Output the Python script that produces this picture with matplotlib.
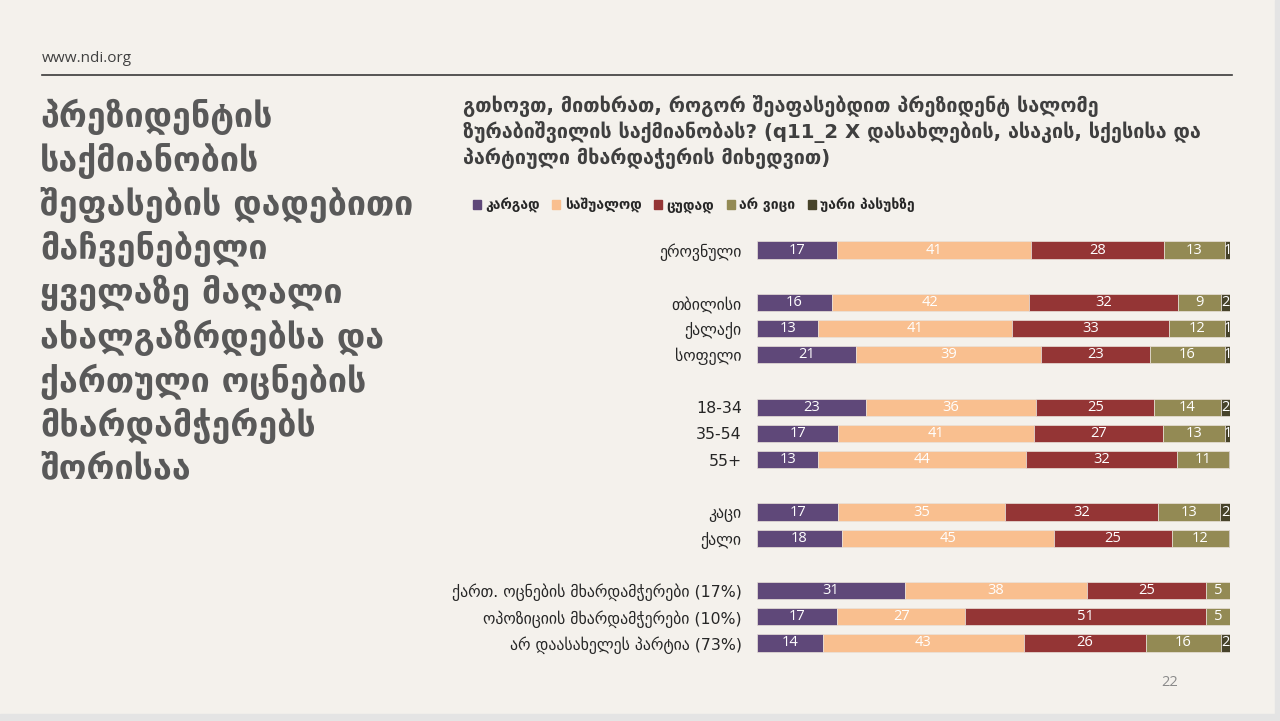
import numpy as np
import matplotlib
matplotlib.use("Agg")
from matplotlib import pyplot as plt
from matplotlib.patches import Rectangle, Patch

plt.rcParams['font.family'] = ['DejaVu Sans']

categories = ['ეროვნული', 'თბილისი', 'ქალაქი', 'სოფელი', '18-34', '35-54', '55+',
              'კაცი', 'ქალი', 'ქართ. ოცნების მხარდამჭერები (17%)',
              'ოპოზიციის მხარდამჭერები (10%)', 'არ დაასახელეს პარტია (73%)']
group_sizes = [1, 3, 3, 2, 3]

good = [17, 16, 13, 21, 23, 17, 13, 17, 18, 31, 17, 14]
average = [41, 42, 41, 39, 36, 41, 44, 35, 45, 38, 27, 43]
bad = [28, 32, 33, 23, 25, 27, 32, 32, 25, 25, 51, 26]
dont_know = [13, 9, 12, 16, 14, 13, 11, 13, 12, 5, 5, 16]
refused = [1, 2, 1, 1, 2, 1, 0.3, 2, 0.3, 0, 0, 2]

series_names = ['კარგად', 'საშუალოდ', 'ცუდად', 'არ ვიცი', 'უარი პასუხზე']
colors = ['#5F4879', '#F9BF8F', '#943535', '#938A54', '#47432A']

title = ('გთხოვთ, მითხრათ, როგორ შეაფასებდით პრეზიდენტ სალომე\n'
         'ზურაბიშვილის საქმიანობას? (q11_2 X დასახლების, ასაკის, სქესისა და\n'
         'პარტიული მხარდაჭერის მიხედვით)')
side_title = ['პრეზიდენტის', 'საქმიანობის', 'შეფასების დადებითი', 'მაჩვენებელი',
              'ყველაზე მაღალი', 'ახალგაზრდებსა და', 'ქართული ოცნების',
              'მხარდამჭერებს', 'შორისაა']

bg = '#F4F1EC'
fig = plt.figure(figsize=(12.8, 7.21), dpi=100, facecolor=bg)

# slide frame edges
fig.patches.append(Rectangle((1275 / 1280, 0), 5 / 1280, 1, transform=fig.transFigure,
                             color='#E4E4E4', zorder=0))
fig.patches.append(Rectangle((0, 0), 1, 7 / 721, transform=fig.transFigure,
                             color='#E4E4E4', zorder=0))

fig.text(42 / 1280, 1 - 58 / 721, 'www.ndi.org', fontsize=11, color='#404040',
         va='center', ha='left', family=['Open Sans', 'DejaVu Sans'])
fig.add_artist(plt.Line2D([42 / 1280, 1232 / 1280], [1 - 75 / 721, 1 - 75 / 721],
                          color='#3A3A3A', lw=1.2))

for i, line in enumerate(side_title):
    fig.text(40 / 1280, 1 - (117 + 44.1 * i) / 721, line, fontsize=24.5, fontweight='bold',
             color='#595959', va='center', ha='left')

fig.text(463 / 1280, 1 - 95 / 721, title, fontsize=14.2, fontweight='bold', color='#3F3F3F',
         va='top', ha='left', linespacing=1.25)

fig.text(1170 / 1280, 1 - 683 / 721, '22', fontsize=10.5, color='#8A8A8A',
         va='center', ha='center', family=['Open Sans', 'DejaVu Sans'])

# positions with gaps between groups
positions = []
p = 0
for g in group_sizes:
    positions.extend(range(p, p + g))
    p += g + 1
positions = np.array(positions)

ax = fig.add_axes([757 / 1280, 1 - 656.1 / 721, (1230 - 757) / 1280, (656.1 - 236.9) / 721])
ax.set_facecolor(bg)

data = np.array([good, average, bad, dont_know, refused], dtype=float)
totals = data.sum(axis=0)
shares = data / totals * 100

left = np.zeros(len(categories))
for k in range(len(series_names)):
    ax.barh(positions, shares[k], left=left, height=0.66, color=colors[k],
            edgecolor='#E9E2DA', linewidth=0.5, label=series_names[k])
    for j in range(len(categories)):
        if data[k, j] >= 1:
            ax.text(left[j] + shares[k, j] / 2, positions[j], f'{data[k, j]:g}',
                    ha='center', va='center', color='white', fontsize=10.5,
                    family=['Open Sans', 'DejaVu Sans'])
    left += shares[k]

ax.set_xlim(0, 100)
ax.set_ylim(positions.max() + 0.5, -0.5)
ax.set_yticks(positions)
ax.set_yticklabels(categories, fontsize=11.3, color='#262626')
ax.tick_params(axis='y', length=0, pad=11)
ax.set_xticks([])
for s in ax.spines.values():
    s.set_visible(False)

handles = [Patch(color=c) for c in colors]
fig.legend(handles, series_names, loc='center left',
           bbox_to_anchor=(460 / 1280, 1 - 205 / 721), ncol=5, frameon=False,
           handlelength=0.6, handleheight=0.6, handletextpad=0.3, columnspacing=0.9,
           prop={'size': 10, 'weight': 'bold'}, labelcolor='#262626')

fig.savefig('out.png', dpi=100, facecolor=bg)
